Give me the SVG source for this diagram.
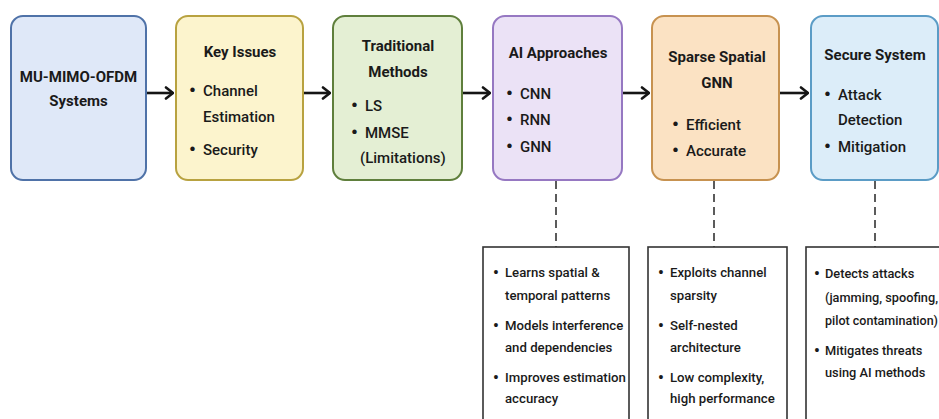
<svg xmlns="http://www.w3.org/2000/svg" width="939" height="419" viewBox="0 0 939 419">
<defs>
<marker id="chev" markerUnits="userSpaceOnUse" viewBox="0 0 10 14" refX="9" refY="7" markerWidth="10" markerHeight="14" orient="auto">
<path d="M2,1.5 L9,7 L2,12.5" fill="none" stroke="#151515" stroke-width="2.6" stroke-linecap="round" stroke-linejoin="round"/>
</marker>
</defs>
<style>
text{font-family:Roboto,"Liberation Sans",sans-serif;fill:#1a1a1a}
.t{font-size:15px;font-weight:700}
.b{font-size:15px;font-weight:500}
.s{font-size:13.2px;font-weight:500}
.s2{font-size:12.8px;font-weight:500}
.bl{font-size:19px;font-weight:700}
.bs{font-size:16px;font-weight:700}
.c{text-anchor:middle}
.box{stroke-width:2}
.det{fill:#fff;stroke:#333;stroke-width:1.6}
.arr{stroke:#151515;stroke-width:2.6;fill:none;marker-end:url(#chev)}
.dash{stroke:#333;stroke-width:1.6;stroke-dasharray:8 5;fill:none}
</style>
<rect width="939" height="419" fill="#fff"/>
<g id="connectors">
<path class="arr" d="M146,93 H173"/>
<path class="arr" d="M303,93 H330"/>
<path class="arr" d="M462,93 H490"/>
<path class="arr" d="M622,93 H649"/>
<path class="arr" d="M779,93 H808"/>
<path class="dash" d="M556,181 V247"/>
<path class="dash" d="M714,181 V247"/>
<path class="dash" d="M875,181 V247"/>
</g>
<g id="n1">
<rect class="box" x="11" y="16" width="135" height="164" rx="12" fill="#dfe8f8" stroke="#4f72a8"/>
<text class="t c" x="78.5" y="82">MU-MIMO-OFDM</text>
<text class="t c" x="78.5" y="106">Systems</text>
</g>
<g id="n2">
<rect class="box" x="176" y="16" width="127" height="164" rx="12" fill="#fcf4cd" stroke="#b8a240"/>
<text class="t c" x="240" y="57">Key Issues</text>
<text class="bl" x="189" y="97">•</text><text class="b" x="203" y="96">Channel</text>
<text class="b" x="203" y="122">Estimation</text>
<text class="bl" x="189" y="156">•</text><text class="b" x="203" y="155">Security</text>
</g>
<g id="n3">
<rect class="box" x="333" y="16" width="129" height="164" rx="12" fill="#e4efd4" stroke="#5f7f3c"/>
<text class="t c" x="398" y="51">Traditional</text>
<text class="t c" x="398" y="77">Methods</text>
<text class="bl" x="351" y="112">•</text><text class="b" x="365" y="111">LS</text>
<text class="bl" x="351" y="139">•</text><text class="b" x="365" y="138">MMSE</text>
<text class="b" x="360" y="163">(Limitations)</text>
</g>
<g id="n4">
<rect class="box" x="493" y="16" width="129" height="164" rx="12" fill="#ebe2f6" stroke="#9678c2"/>
<text class="t c" x="558" y="58">AI Approaches</text>
<text class="bl" x="506" y="100">•</text><text class="b" x="520" y="99">CNN</text>
<text class="bl" x="506" y="126">•</text><text class="b" x="520" y="125">RNN</text>
<text class="bl" x="506" y="153">•</text><text class="b" x="520" y="152">GNN</text>
</g>
<g id="n5">
<rect class="box" x="652" y="16" width="127" height="164" rx="12" fill="#fbe2c3" stroke="#c79250"/>
<text class="t c" x="717" y="62">Sparse Spatial</text>
<text class="t c" x="717" y="88">GNN</text>
<text class="bl" x="672" y="131">•</text><text class="b" x="686" y="130">Efficient</text>
<text class="bl" x="672" y="157">•</text><text class="b" x="686" y="156">Accurate</text>
</g>
<g id="n6">
<rect class="box" x="811" y="16" width="127" height="164" rx="12" fill="#dcedf9" stroke="#5b9cc6"/>
<text class="t c" x="875" y="60">Secure System</text>
<text class="bl" x="824" y="101">•</text><text class="b" x="838" y="100">Attack</text>
<text class="b" x="838" y="125">Detection</text>
<text class="bl" x="824" y="153">•</text><text class="b" x="838" y="152">Mitigation</text>
</g>
<g id="d1">
<rect class="det" x="483" y="247" width="146" height="190"/>
<text class="bs" x="493" y="278">•</text><text class="s" x="505" y="277">Learns spatial &amp;</text>
<text class="s" x="505" y="300">temporal patterns</text>
<text class="bs" x="493" y="331">•</text><text class="s" x="505" y="330">Models interference</text>
<text class="s" x="505" y="352">and dependencies</text>
<text class="bs" x="493" y="383">•</text><text class="s" x="505" y="382">Improves estimation</text>
<text class="s" x="505" y="403">accuracy</text>
</g>
<g id="d2">
<rect class="det" x="648" y="247" width="139" height="190"/>
<text class="bs" x="658" y="278">•</text><text class="s" x="670" y="277">Exploits channel</text>
<text class="s" x="670" y="300">sparsity</text>
<text class="bs" x="658" y="331">•</text><text class="s" x="670" y="330">Self-nested</text>
<text class="s" x="670" y="352">architecture</text>
<text class="bs" x="658" y="383">•</text><text class="s" x="670" y="382">Low complexity,</text>
<text class="s" x="670" y="403">high performance</text>
</g>
<g id="d3">
<rect class="det" x="806" y="247" width="150" height="190"/>
<text class="bs" x="814" y="279">•</text><text class="s2" x="825" y="278">Detects attacks</text>
<text class="s2" x="825" y="302" textLength="113" lengthAdjust="spacingAndGlyphs">(jamming, spoofing,</text>
<text class="s2" x="825" y="325" textLength="113" lengthAdjust="spacingAndGlyphs">pilot contamination)</text>
<text class="bs" x="814" y="356">•</text><text class="s2" x="825" y="355">Mitigates threats</text>
<text class="s2" x="825" y="377">using AI methods</text>
</g>
</svg>
